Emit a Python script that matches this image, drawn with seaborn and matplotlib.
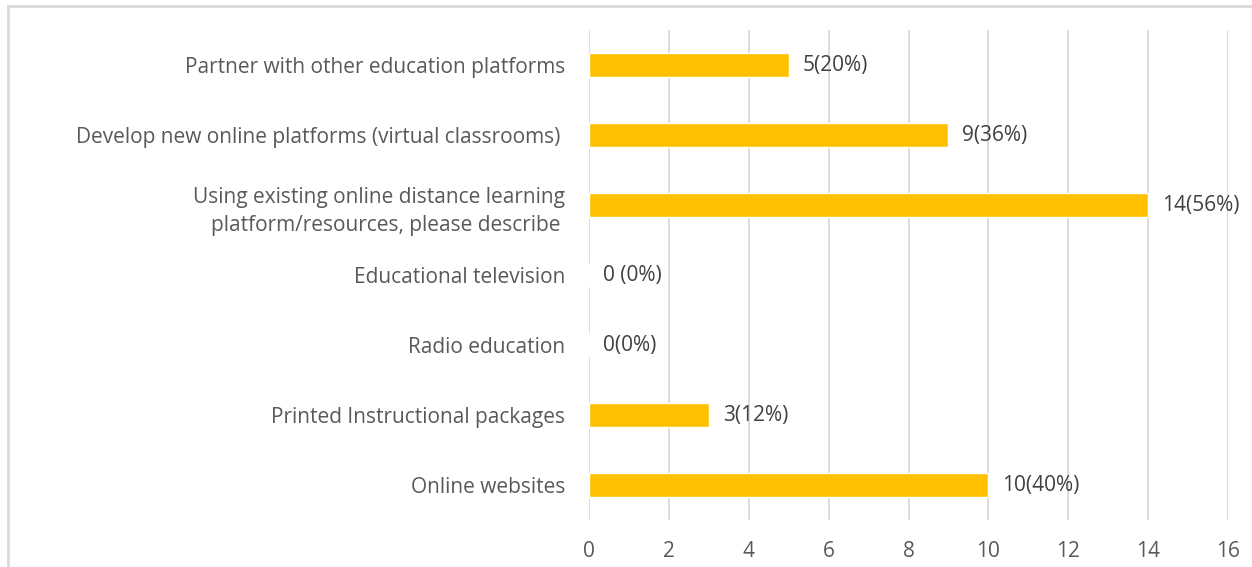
import matplotlib
matplotlib.use("Agg")
import matplotlib.pyplot as plt
import seaborn as sns
import pandas as pd
from matplotlib.patches import Rectangle

categories = [
    "Partner with other education platforms",
    "Develop new online platforms (virtual classrooms) ",
    "Using existing online distance learning\nplatform/resources, please describe ",
    "Educational television",
    "Radio education",
    "Printed Instructional packages",
    "Online websites",
]
values = [5, 9, 14, 0, 0, 3, 10]
value_labels = ["5(20%)", "9(36%)", "14(56%)", "0 (0%)", "0(0%)", "3(12%)", "10(40%)"]
x_ticks = [0, 2, 4, 6, 8, 10, 12, 14, 16]

sns.set_theme(style="white")
plt.rcParams['font.family'] = ['Open Sans', 'DejaVu Sans']

W, H = 1252, 567
fig = plt.figure(figsize=(W / 100, H / 100), dpi=100)
ax = fig.add_axes([589 / W, 1 - 520 / H, (1228 - 589) / W, (520 - 30) / H])

df = pd.DataFrame({"cat": categories, "val": values})
sns.barplot(data=df, y="cat", x="val", orient="h", color="#FFC000",
            width=0.34, saturation=1, ax=ax)

ax.set_xlim(0, 16)
ax.set_xticks(x_ticks)
ax.set_xticklabels([str(t) for t in x_ticks])
ax.set_xlabel("")
ax.set_ylabel("")
ax.grid(axis="x", color="#d9d9d9", linewidth=1.3)
ax.set_axisbelow(True)
for s in ax.spines.values():
    s.set_visible(False)
ax.tick_params(axis="x", length=0, colors="#595959", labelsize=15, pad=15)
ax.tick_params(axis="y", length=0, colors="#595959", labelsize=15, pad=17)
for lbl in ax.get_yticklabels():
    lbl.set_color("#595959")
    lbl.set_linespacing(1.45)

ax.bar_label(ax.containers[0], labels=value_labels, padding=10,
             color="#404040", fontsize=15)

fig.patches.append(Rectangle((8 / W, -0.1), 1.5, 1 - 6 / H + 0.1,
                             transform=fig.transFigure, fill=False,
                             edgecolor="#d9d9d9", linewidth=2, zorder=0))

fig.savefig("out.png", dpi=100, facecolor="white")
